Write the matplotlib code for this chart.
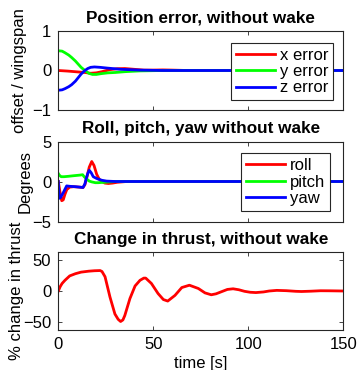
import matplotlib
matplotlib.use('Agg')
import matplotlib.pyplot as plt

plt.rcParams['font.family'] = ['Liberation Sans', 'DejaVu Sans']
plt.rcParams['font.size'] = 12

# Position error (offset / wingspan)
x_err_t = [0, 5, 10, 14, 17, 20, 23, 27, 31, 35, 40, 45, 50, 55, 60, 68, 150]
x_err = [0, -0.015, -0.035, -0.05, -0.07, -0.06, -0.03, 0.02, 0.045, 0.05, 0.03, 0.01, 0.01, 0.015, 0.01, 0, 0]
y_err_t = [0, 2, 3.5, 5.5, 7, 9, 10.5, 12, 14, 16, 18, 20, 22.5, 26, 30, 35, 43, 55, 150]
y_err = [0.5, 0.49, 0.45, 0.39, 0.33, 0.24, 0.16, 0.08, 0.0, -0.07, -0.1, -0.1, -0.08, -0.06, -0.05, -0.03, -0.01, 0, 0]
z_err_t = [0, 2, 3.5, 5.5, 7, 9, 10.5, 12, 14, 15.5, 17, 19, 22, 26, 33, 43, 55, 150]
z_err = [-0.5, -0.49, -0.46, -0.41, -0.36, -0.27, -0.18, -0.09, 0, 0.05, 0.08, 0.09, 0.08, 0.06, 0.03, 0.01, 0, 0]

# Roll, pitch, yaw (degrees)
roll_t = [0, 0.8, 1.8, 2.6, 3.5, 4.5, 6, 8, 11, 13, 14, 15, 16.3, 17.6, 18.8, 20.2, 21.5, 22.8, 24.5, 26.3, 28.5, 31, 36, 150]
roll = [0, -1.2, -2.4, -2.3, -1.6, -1.0, -0.7, -0.65, -0.7, -0.75, -0.4, 0.5, 1.8, 2.5, 2.0, 0.9, 0.3, 0, -0.2, -0.25, -0.2, -0.1, 0, 0]
pitch_t = [0, 0.5, 1.5, 3, 5.3, 8, 11.4, 12.8, 13.6, 15, 16.3, 17.6, 19.5, 21, 24, 27, 30, 150]
pitch = [1.0, 0.8, 0.6, 0.6, 0.65, 0.72, 0.8, 0.85, 0.6, 0.3, 0.05, -0.05, -0.15, -0.15, -0.1, -0.05, 0, 0]
yaw_t = [0, 0.5, 1.2, 2.6, 4.4, 6, 9, 13, 14, 14.6, 15.5, 16.3, 17.3, 18.4, 20, 21, 23, 25.4, 30, 150]
yaw = [0, -2.1, -2.0, -1.4, -0.55, -0.6, -0.65, -0.75, -0.3, 0.3, 1.0, 1.4, 1.1, 0.6, 0.4, 0.3, 0.15, 0.05, 0, 0]

# Change in thrust (%)
thrust_t = [0, 1, 2, 3.5, 6, 9, 12, 16, 19, 22, 23, 24.6, 27.2, 29.8, 31.5, 32.8, 34, 35, 37.7, 40.4, 43, 45, 46, 49, 52.5,
            55.3, 57.6, 61.4, 65, 69, 73.7, 77.2, 80.5, 83, 86, 89, 92, 95, 98, 101, 104, 108, 111, 115, 120, 125, 128,
            133, 138, 143, 150]
thrust = [0, 7, 12, 17, 24, 27.5, 30, 31.5, 32.2, 32.5, 31, 22.7, -9.6, -36.6, -45, -48.5, -46, -39, -12, 8, 17, 20.5, 20.5, 12, -4,
          -13.6, -16, -7, 5.5, 9.2, 4, -3, -6, -4.5, -1, 2.5, 3.5, 2, -0.5, -2, -2.5, -1.5, 0, 1, 0.5, -0.5, -0.8,
          -0.3, 0.4, 0.3, 0]

time_ticks = [0, 50, 100, 150]
W, H = 360, 370
dark = '#262626'

fig = plt.figure(figsize=(W / 100, H / 100), dpi=100)


def make_axes(top_px, bottom_px):
    ax = fig.add_axes([58.3 / W, 1 - bottom_px / H, 285 / W, (bottom_px - top_px) / H])
    ax.set_xlim(0, 150)
    ax.set_xticks(time_ticks)
    ax.tick_params(direction='in', length=3, width=0.6, top=True, right=True, colors=dark,
                   labelcolor='black', pad=5)
    for s in ax.spines.values():
        s.set_color(dark)
        s.set_linewidth(0.8)
    return ax


title_kw = dict(fontweight='bold', fontsize=12.3, pad=6)

ax1 = make_axes(31, 110)
ax1.plot(x_err_t, x_err, color='red', lw=2, label='x error')
ax1.plot(y_err_t, y_err, color='#00ff00', lw=2, label='y error')
ax1.plot(z_err_t, z_err, color='blue', lw=2, label='z error')
ax1.set_ylim(-1, 1)
ax1.set_yticks([-1, 0, 1])
ax1.set_xticklabels([])
ax1.set_title('Position error, without wake', **title_kw)
ax1.set_ylabel('offset / wingspan')
ax1.yaxis.set_label_coords((27 - 58.3) / 285, 0.5)

ax2 = make_axes(141.5, 221.5)
ax2.plot(roll_t, roll, color='red', lw=2, label='roll')
ax2.plot(pitch_t, pitch, color='#00ff00', lw=2, label='pitch')
ax2.plot(yaw_t, yaw, color='blue', lw=2, label='yaw')
ax2.set_ylim(-5, 5)
ax2.set_yticks([-5, 0, 5])
ax2.set_xticklabels([])
ax2.set_title('Roll, pitch, yaw without wake', **title_kw)
ax2.set_ylabel('Degrees')
ax2.yaxis.set_label_coords((33 - 58.3) / 285, 0.5)

ax3 = make_axes(252, 330)
ax3.plot(thrust_t, thrust, color='red', lw=2)
ax3.set_ylim(-62, 62)
ax3.set_yticks([-50, 0, 50])
ax3.set_title('Change in thrust, without wake', **title_kw)
ax3.set_ylabel('% change in thrust')
ax3.yaxis.set_label_coords((24 - 58.3) / 285, 0.5)
ax3.set_xlabel('time [s]', labelpad=3)

leg_kw = dict(loc='upper right', bbox_transform=fig.transFigure, borderaxespad=0, fancybox=False,
              framealpha=1, edgecolor=dark, handlelength=2.3, handletextpad=0.3, labelspacing=0.08,
              borderpad=0.3)
l1 = ax1.legend(bbox_to_anchor=(333.3 / W, 1 - 42.7 / H), **leg_kw)
l2 = ax2.legend(bbox_to_anchor=(330 / W, 1 - 153.3 / H), **leg_kw)
for lg in (l1, l2):
    lg.get_frame().set_linewidth(0.8)

fig.savefig('out.png', dpi=100)
